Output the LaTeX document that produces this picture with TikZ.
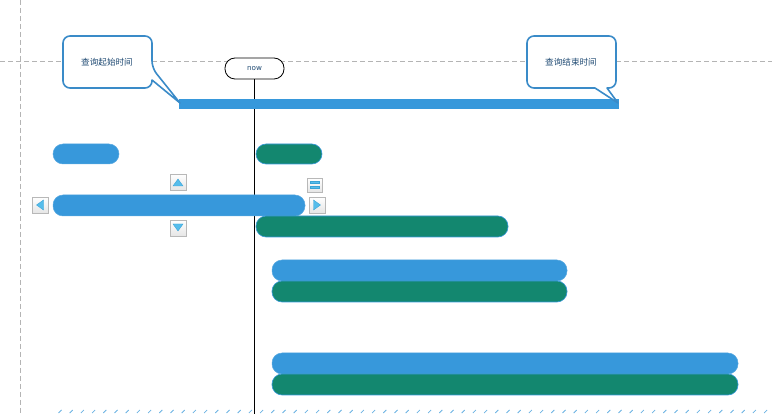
\documentclass[tikz,border=0pt]{standalone}
\usepackage{fontspec}
\newfontfamily\cjk{Noto Sans CJK SC}
\setsansfont{DejaVu Sans}
\definecolor{barblue}{HTML}{3798DB}
\definecolor{bargreen}{HTML}{13876F}
\definecolor{callblue}{HTML}{3A8BC8}
\definecolor{txtblue}{HTML}{1F4A73}
\definecolor{gridgray}{HTML}{B4B4B4}
\definecolor{btnedge}{HTML}{B8B8B8}
\definecolor{glyph}{HTML}{56BDEB}
\definecolor{glyphedge}{HTML}{3AA3D6}
\definecolor{tick}{HTML}{6AB2E2}
\tikzset{
  grid line/.style={draw=gridgray, line width=1pt, dash pattern=on 5pt off 3pt},
  callout/.style={draw=callblue, line width=1.6pt, fill=white, line join=round},
  calltext/.style={font=\cjk\fontsize{8.6}{10}\selectfont, text=txtblue, inner sep=0pt},
  bluebar/.style={fill=barblue, draw=barblue!85!white, line width=0.5pt, rounded corners=10pt},
  greenbar/.style={fill=bargreen, draw=barblue, line width=0.6pt, rounded corners=10pt},
  btn/.style={draw=btnedge, line width=0.8pt, top color=white, bottom color=black!10},
  glyphfill/.style={fill=glyph, draw=glyphedge, line width=0.4pt},
  nowbox/.style={draw=black, line width=0.8pt, fill=white, rounded corners=10pt, minimum width=59pt, minimum height=21pt, inner sep=0pt, font=\sffamily\fontsize{7.2}{8}\selectfont, text=txtblue},
}
\begin{document}
\begin{tikzpicture}[x=1pt, y=-1pt]
\useasboundingbox (0,0) rectangle (772,414);
% grid lines
\draw[grid line] (20,0) -- (20,414);
\draw[grid line] (0,62) -- (772,62);
% time line
\coordinate (ltop) at (254,79);
\coordinate (lbot) at (254,414);
\draw[black, line width=1pt] (ltop) -- (lbot);
% query range bar
\fill[barblue] (179,99) rectangle (619,109);
% callout start
\draw[callout] (100,36) [rounded corners=7pt] -- (152,36) -- (152,68) [sharp corners] -- (180,103) -- (152,80) [rounded corners=7pt] -- (152,88) -- (63,88) -- (63,36) -- (100,36);
\node[calltext] (qs) at (107,62) {查询起始时间};
% callout end
\draw[callout] (571,36) [rounded corners=7pt] -- (616,36) -- (616,88) [sharp corners] -- (607,88) -- (618,103) -- (595,88) [rounded corners=7pt] -- (527,88) -- (527,36) -- (571,36);
\node[calltext] (qe) at (571,62) {查询结束时间};
% now
\node[nowbox] (now) at (254.5,68.5) {now};
% bars
\draw[bluebar] (53,144) rectangle (119,164);
\draw[greenbar] (256,144) rectangle (322,164);
\draw[bluebar] (53,195) rectangle (305,216);
\draw[greenbar] (256,216) rectangle (508,237);
\draw[bluebar] (272,260) rectangle (567,281);
\draw[greenbar] (272,281) rectangle (567,302);
\draw[bluebar] (272,353) rectangle (738,374);
\draw[greenbar] (272,374) rectangle (738,395);
% buttons
\draw[btn] (170,174) rectangle (186,190);
\draw[glyphfill] (173,186) -- (183,186) -- (178,179) -- cycle;
\draw[btn] (170,220) rectangle (186,236);
\draw[glyphfill] (173,224) -- (183,224) -- (178,231) -- cycle;
\draw[btn] (32,197) rectangle (48,213);
\draw[glyphfill] (43.5,200) -- (43.5,210) -- (36.5,205) -- cycle;
\draw[btn] (309,197) rectangle (325,213);
\draw[glyphfill] (313.5,200) -- (313.5,210) -- (320.5,205) -- cycle;
\draw[btn] (307,178) rectangle (322,192);
\draw[glyphfill] (310,181.5) rectangle (319,183.5);
\draw[glyphfill] (310,186) rectangle (319,188);
% bottom ticks
\foreach \i in {0,...,63} {
  \draw[tick, line width=0.8pt] ({60+11.2*\i-1.5},413) -- ({60+11.2*\i+1.5},410);
}
\end{tikzpicture}
\end{document}
